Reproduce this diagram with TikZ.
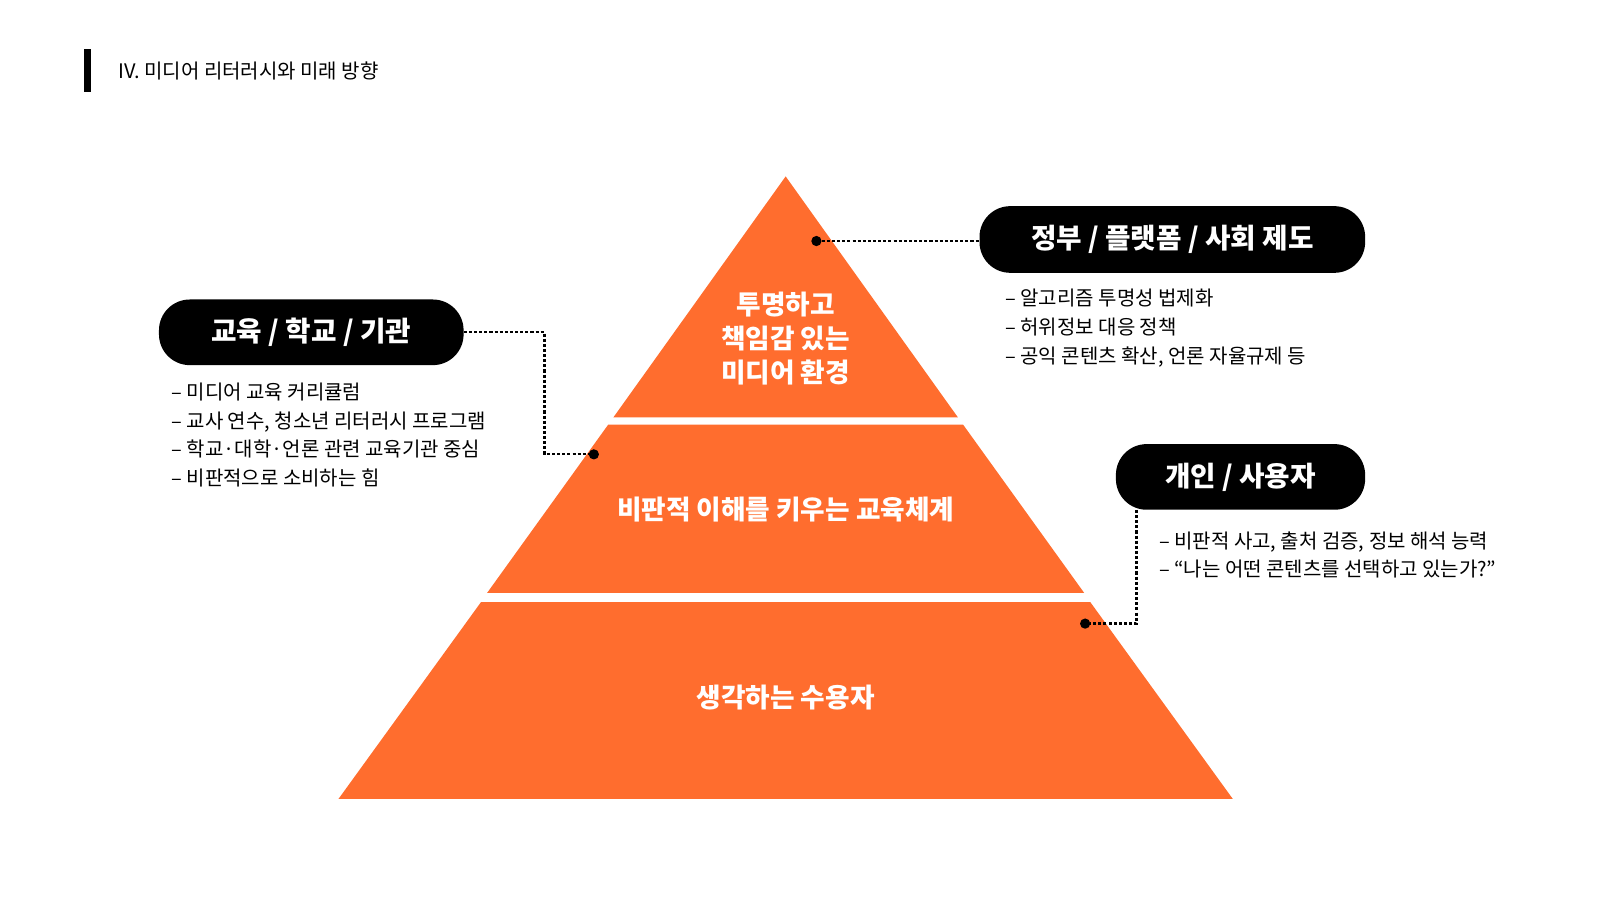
\documentclass[tikz,border=0pt]{standalone}
\usepackage{fontspec}
\setmainfont{Noto Sans CJK KR}
\usetikzlibrary{positioning}
\definecolor{pyrorange}{HTML}{FF6D2E}

\begin{document}
\begin{tikzpicture}[x=1pt,y=-1pt]
        \tikzset{pill/.style = {fill=black, text=white, rounded corners=30pt, font=\fontsize{27}{32}\selectfont\bfseries, inner sep=0pt}}
        \tikzset{tier/.style = {text=white, font=\fontsize{26}{33}\selectfont\bfseries, align=center}}
        \tikzset{bullets/.style = {anchor=north west, align=left, font=\fontsize{19.5}{28}\selectfont, inner sep=0pt}}
        \tikzset{link/.style = {densely dashed, line width=2.2pt}}
        \tikzset{dot/.style = {circle, fill=black, minimum size=10pt, inner sep=0pt}}
        \useasboundingbox (0,0) rectangle (1560,877.5);

        % title
        \fill (82,48) rectangle (89,90);
        \node[anchor=west, font=\fontsize{19.5}{24}\selectfont] (title) at (112,69) {IV. 미디어 리터러시와 미래 방향};

        % pyramid
        \fill[pyrorange] (766,172) -- (934,407) -- (598,407) -- cycle;
        \fill[pyrorange] (593,414) -- (939,414) -- (1057,578) -- (475,578) -- cycle;
        \fill[pyrorange] (469,587) -- (1063,587) -- (1202,779) -- (330,779) -- cycle;
        \node[tier] (top) at (766,330) {투명하고\\책임감 있는\\미디어 환경};
        \node[tier] (mid) at (766,497) {비판적 이해를 키우는 교육체계};
        \node[tier] (base) at (766,680) {생각하는 수용자};

        % boxes
        \node[pill, minimum width=376pt, minimum height=65pt] (gov) at (1143,233.5) {정부 / 플랫폼 / 사회 제도};
        \node[pill, minimum width=297pt, minimum height=64pt] (edu) at (303.5,324) {교육 / 학교 / 기관};
        \node[pill, minimum width=243pt, minimum height=64pt] (user) at (1209.5,465) {개인 / 사용자};

        % bullet texts
        \node[bullets] (govlist) at (980,282) {– 알고리즘 투명성 법제화\\– 허위정보 대응 정책\\– 공익 콘텐츠 확산, 언론 자율규제 등};
        \node[bullets] (edulist) at (167,373) {– 미디어 교육 커리큘럼\\– 교사 연수, 청소년 리터러시 프로그램\\– 학교·대학·언론 관련 교육기관 중심\\– 비판적으로 소비하는 힘};
        \node[bullets] (userlist) at (1130,518) {– 비판적 사고, 출처 검증, 정보 해석 능력\\– “나는 어떤 콘텐츠를 선택하고 있는가?”};

        % connectors
        \node[dot] (govdot) at (796,235) {};
        \node[dot] (edudot) at (579,443) {};
        \node[dot] (userdot) at (1058,608) {};
        \draw[link] (govdot) -- (gov.west |- govdot);
        \draw[link] (edu.east) -| (531,443) -- (edudot);
        \draw[link] (user.south west -| 1108,0) -- (1108,608) -- (userdot);
\end{tikzpicture}
\end{document}
